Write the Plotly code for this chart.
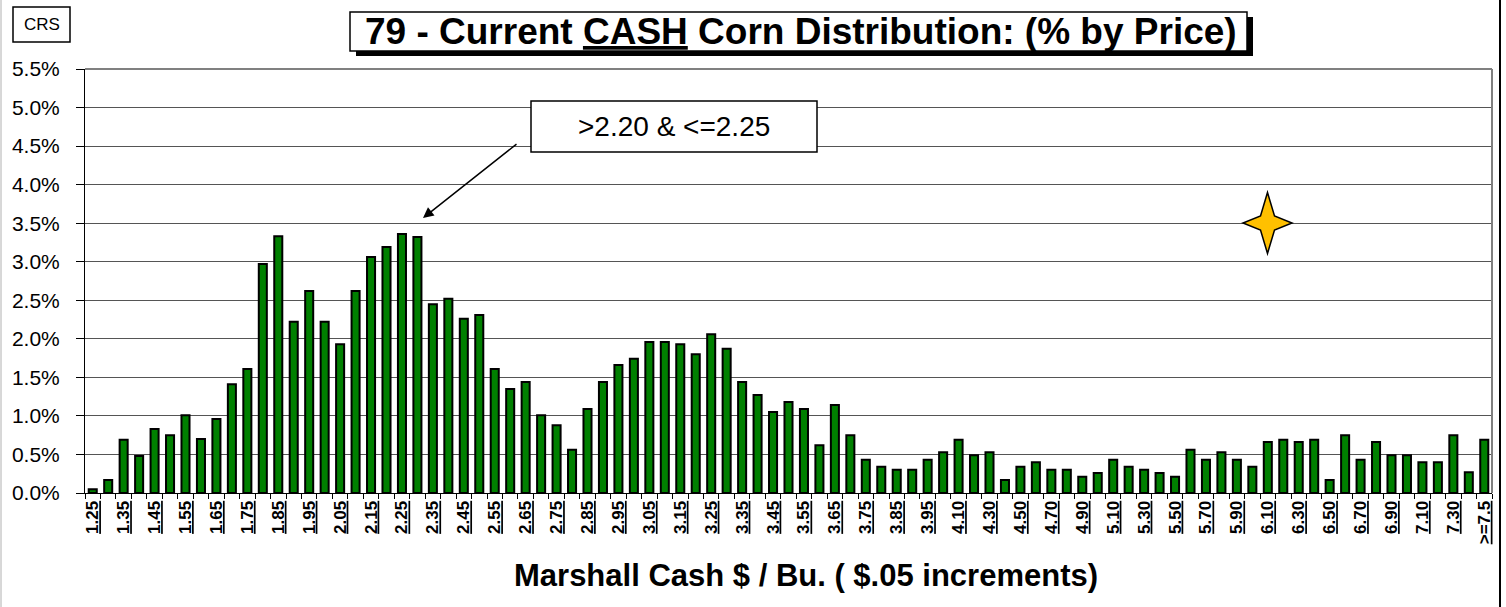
import plotly.graph_objects as go

# ---------------- data ----------------
price_labels = [
    "1.25", "1.30", "1.35", "1.40", "1.45", "1.50", "1.55", "1.60", "1.65", "1.70",
    "1.75", "1.80", "1.85", "1.90", "1.95", "2.00", "2.05", "2.10", "2.15", "2.20",
    "2.25", "2.30", "2.35", "2.40", "2.45", "2.50", "2.55", "2.60", "2.65", "2.70",
    "2.75", "2.80", "2.85", "2.90", "2.95", "3.00", "3.05", "3.10", "3.15", "3.20",
    "3.25", "3.30", "3.35", "3.40", "3.45", "3.50", "3.55", "3.60", "3.65", "3.70",
    "3.75", "3.80", "3.85", "3.90", "3.95", "4.00", "4.10", "4.20", "4.30", "4.40",
    "4.50", "4.60", "4.70", "4.80", "4.90", "5.00", "5.10", "5.20", "5.30", "5.40",
    "5.50", "5.60", "5.70", "5.80", "5.90", "6.00", "6.10", "6.20", "6.30", "6.40",
    "6.50", "6.60", "6.70", "6.80", "6.90", "7.00", "7.10", "7.20", "7.30", "7.40",
    ">=7.5",
]

pct_values = [
    0.05, 0.17, 0.69, 0.48, 0.83, 0.75, 1.01, 0.70, 0.96, 1.41,
    1.61, 2.97, 3.33, 2.22, 2.62, 2.22, 1.93, 2.62, 3.06, 3.19,
    3.36, 3.32, 2.45, 2.52, 2.26, 2.31, 1.61, 1.35, 1.44, 1.01,
    0.88, 0.56, 1.09, 1.44, 1.66, 1.74, 1.96, 1.96, 1.93, 1.80,
    2.06, 1.87, 1.44, 1.27, 1.05, 1.18, 1.09, 0.62, 1.14, 0.75,
    0.43, 0.34, 0.30, 0.30, 0.43, 0.53, 0.69, 0.49, 0.53, 0.17,
    0.34, 0.40, 0.30, 0.30, 0.21, 0.26, 0.43, 0.34, 0.30, 0.26,
    0.21, 0.56, 0.43, 0.53, 0.43, 0.34, 0.66, 0.69, 0.66, 0.69,
    0.17, 0.75, 0.43, 0.66, 0.49, 0.49, 0.40, 0.40, 0.75, 0.27,
    0.69,
]

y_tick_values = [0.0, 0.5, 1.0, 1.5, 2.0, 2.5, 3.0, 3.5, 4.0, 4.5, 5.0, 5.5]

title_text = "79 - Current <u>CASH</u> Corn Distribution: (% by Price)"
x_title_text = "Marshall Cash $ / Bu. ( $.05 increments)"
callout_text = ">2.20 &amp; <=2.25"
corner_text = "CRS"

assert len(price_labels) == len(pct_values)

# ---------------- layout geometry ----------------
W, H = 1506, 607
ML, MR, MT, MB = 85, 14, 69, 114
PW = W - ML - MR
PH = H - MT - MB


def px(x):
    return (x - ML) / PW


def py(y):
    return (H - MB - y) / PH


tick_text = [
    f"<b><u>{lab}</u></b>" if i % 2 == 0 else "" for i, lab in enumerate(price_labels)
]

fig = go.Figure()
fig.add_trace(
    go.Bar(
        x=price_labels,
        y=pct_values,
        marker=dict(color="#008000", line=dict(color="black", width=2)),
        hoverinfo="x+y",
    )
)

font_family = "Arial, Liberation Sans, sans-serif"

fig.update_layout(
    width=W,
    height=H,
    margin=dict(l=ML, r=MR, t=MT, b=MB),
    plot_bgcolor="white",
    paper_bgcolor="white",
    bargap=0.48,
    showlegend=False,
    font=dict(family=font_family, color="black"),
)

fig.update_xaxes(
    type="category",
    tickmode="array",
    tickvals=price_labels,
    ticktext=tick_text,
    tickangle=-90,
    tickfont=dict(size=17, family=font_family, color="black"),
    tickson="boundaries",
    ticks="outside",
    ticklen=5,
    tickcolor="black",
    showline=True,
    linecolor="black",
    linewidth=1,
    showgrid=False,
    range=[-0.5, len(price_labels) - 0.5],
    automargin=False,
)

fig.update_yaxes(
    range=[0, 5.5],
    tickmode="array",
    tickvals=y_tick_values,
    ticktext=[f"{v:.1f}%" for v in y_tick_values],
    tickfont=dict(size=21, family=font_family, color="black"),
    ticks="outside",
    ticklen=8,
    tickcolor="black",
    ticklabelstandoff=12,
    showline=True,
    linecolor="black",
    linewidth=1,
    showgrid=True,
    gridcolor="#555555",
    gridwidth=1,
    zeroline=False,
    automargin=False,
)

shapes = []
# plot area top & right border (gray)
shapes.append(dict(type="line", xref="paper", yref="paper", x0=0, x1=1, y0=1, y1=1,
                   line=dict(color="#808080", width=2)))
shapes.append(dict(type="line", xref="paper", yref="paper", x0=1, x1=1, y0=0, y1=1,
                   line=dict(color="#808080", width=2)))
# outer frame lines
shapes.append(dict(type="line", xref="paper", yref="paper", x0=px(1), x1=px(1), y0=py(0), y1=py(H),
                   line=dict(color="#b0b0b0", width=1)))
shapes.append(dict(type="line", xref="paper", yref="paper", x0=px(1500), x1=px(1500), y0=py(0), y1=py(H),
                   line=dict(color="black", width=2)))
# title box shadow + box
shapes.append(dict(type="rect", xref="paper", yref="paper", x0=px(356), x1=px(1253), y0=py(17), y1=py(56),
                   fillcolor="black", line=dict(color="black", width=0)))
shapes.append(dict(type="rect", xref="paper", yref="paper", x0=px(350), x1=px(1247), y0=py(12), y1=py(51),
                   fillcolor="white", line=dict(color="black", width=1.5)))
# CRS box
shapes.append(dict(type="rect", xref="paper", yref="paper", x0=px(13), x1=px(70), y0=py(7), y1=py(42),
                   fillcolor="white", line=dict(color="black", width=1.5)))
# callout box
shapes.append(dict(type="rect", xref="paper", yref="paper", x0=px(531), x1=px(817), y0=py(101), y1=py(152),
                   fillcolor="white", line=dict(color="black", width=1.5)))
# 4-point star
cx, cy = 1267.5, 223.0
outer_x, outer_y = 24.5, 30.5
inner = 7.0
pts = [
    (cx, cy - outer_y), (cx + inner, cy - inner), (cx + outer_x, cy), (cx + inner, cy + inner),
    (cx, cy + outer_y), (cx - inner, cy + inner), (cx - outer_x, cy), (cx - inner, cy - inner),
]
path = "M " + " L ".join(f"{px(x):.5f},{py(y):.5f}" for x, y in pts) + " Z"
shapes.append(dict(type="path", xref="paper", yref="paper", path=path,
                   fillcolor="#FFC000", line=dict(color="black", width=1.5)))

fig.update_layout(shapes=shapes)

annotations = [
    dict(text=f"<b>{title_text}</b>", xref="paper", yref="paper", x=px(801), y=py(31.5),
         xanchor="center", yanchor="middle", showarrow=False,
         font=dict(size=37, family=font_family, color="black")),
    dict(text=corner_text, xref="paper", yref="paper", x=px(41.5), y=py(24.5),
         xanchor="center", yanchor="middle", showarrow=False,
         font=dict(size=17, family=font_family, color="black")),
    dict(text=callout_text, xref="paper", yref="paper", x=px(674), y=py(126.5),
         xanchor="center", yanchor="middle", showarrow=False,
         font=dict(size=28, family=font_family, color="black")),
    dict(text="", xref="paper", yref="paper", x=px(423), y=py(218),
         ax=518 - 423, ay=143 - 218, showarrow=True, arrowhead=2, arrowsize=1.4,
         arrowwidth=1.5, arrowcolor="black"),
    dict(text=f"<b>{x_title_text}</b>", xref="paper", yref="paper", x=px(806), y=py(575.5),
         xanchor="center", yanchor="middle", showarrow=False,
         font=dict(size=31, family=font_family, color="black")),
]
fig.update_layout(annotations=annotations)

fig.write_html(
    "out.html",
    config={"displayModeBar": False},
    post_script="document.body.style.margin='0px';",
)
